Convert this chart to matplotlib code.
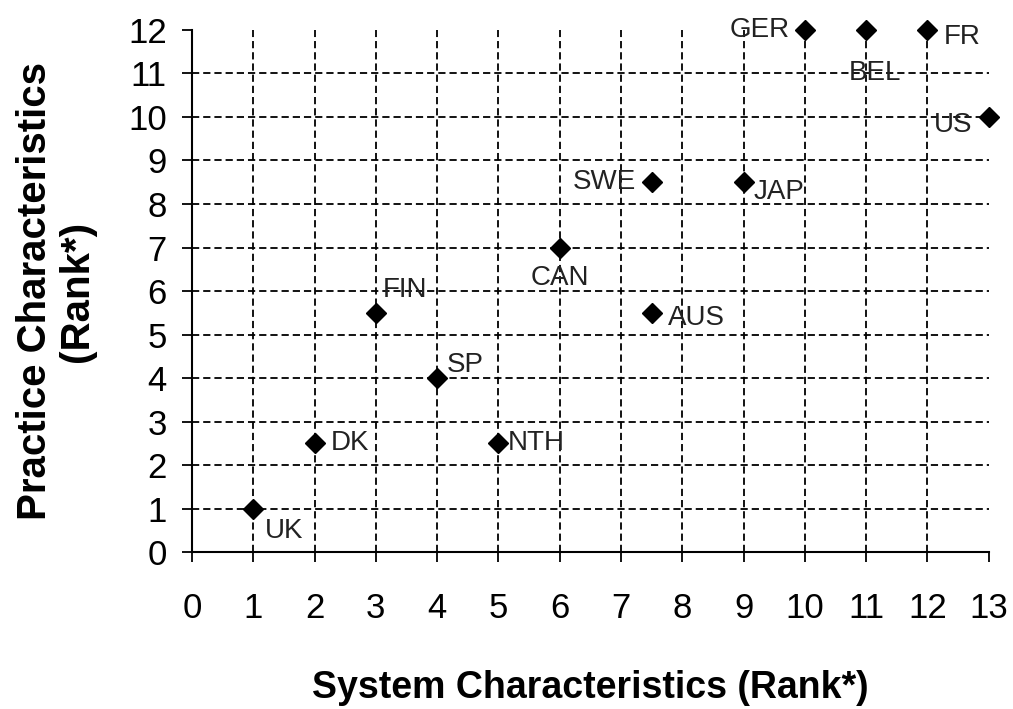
import matplotlib
matplotlib.use("Agg")
import matplotlib.pyplot as plt

countries = ["UK", "DK", "FIN", "SP", "NTH", "CAN", "SWE", "AUS", "JAP", "GER", "BEL", "FR", "US"]
system_rank = [1, 2, 3, 4, 5, 6, 7.5, 7.5, 9, 10, 11, 12, 13]
practice_rank = [1, 2.5, 5.5, 4, 2.5, 7, 8.5, 5.5, 8.5, 12, 12, 12, 10]
x_ticks = list(range(0, 14))
y_ticks = list(range(0, 13))

# label placement (offset in points, horizontal alignment)
label_pos = {
    "UK": ((8.6, -16), "left"),
    "DK": ((11.5, 0), "left"),
    "FIN": ((5, 16.5), "left"),
    "SP": ((7, 9.4), "left"),
    "NTH": ((7, 0), "left"),
    "CAN": ((0, -21.6), "center"),
    "SWE": ((-11, 0), "right"),
    "AUS": ((12, -4), "left"),
    "JAP": ((7, -7), "left"),
    "GER": ((-11, 0), "right"),
    "BEL": ((6.5, -31), "center"),
    "FR": ((12, -5), "left"),
    "US": ((-12, -6), "right"),
}

plt.rcParams["font.family"] = ["Liberation Sans", "DejaVu Sans"]

fig = plt.figure(figsize=(10.13, 7.09), dpi=100)
ax = fig.add_axes([0.1895, 0.2214, 0.976 - 0.1895, 0.9577 - 0.2214])

ax.set_xlim(0, 13)
ax.set_ylim(0, 12)

# dashed grid, excluding the outer edges
for xv in x_ticks[1:-1]:
    ax.axvline(xv, color="black", lw=1.3, ls=(0, (4, 2.2)), zorder=1)
for yv in y_ticks[1:-1]:
    ax.axhline(yv, color="black", lw=1.3, ls=(0, (4, 2.2)), zorder=1)

ax.plot(system_rank, practice_rank, linestyle="none", marker="D", markersize=10,
        color="black", zorder=3, clip_on=False)

for name, xv, yv in zip(countries, system_rank, practice_rank):
    off, ha = label_pos[name]
    ax.annotate(name, (xv, yv), xytext=off, textcoords="offset points",
                ha=ha, va="center", fontsize=20, color="#222222", zorder=4,
                annotation_clip=False)

ax.set_xticks(x_ticks)
ax.set_yticks(y_ticks)
ax.tick_params(axis="both", direction="out", length=7, width=1.3, labelsize=25, color="black")
ax.tick_params(axis="x", pad=22)
ax.tick_params(axis="y", pad=11)

for s in ["top", "right"]:
    ax.spines[s].set_visible(False)
for s in ["left", "bottom"]:
    ax.spines[s].set_linewidth(1.5)

fig.text(590 / 1013, 1 - 698 / 709, "System Characteristics (Rank*)", ha="center",
         va="baseline", fontsize=27, fontweight="bold")
fig.text(56 / 1013, 1 - 291 / 709, "Practice Characteristics\n(Rank*)", ha="center",
         va="center", rotation=90, fontsize=29, fontweight="bold",
         multialignment="center", linespacing=1.1)

fig.savefig("out.png", dpi=100)
